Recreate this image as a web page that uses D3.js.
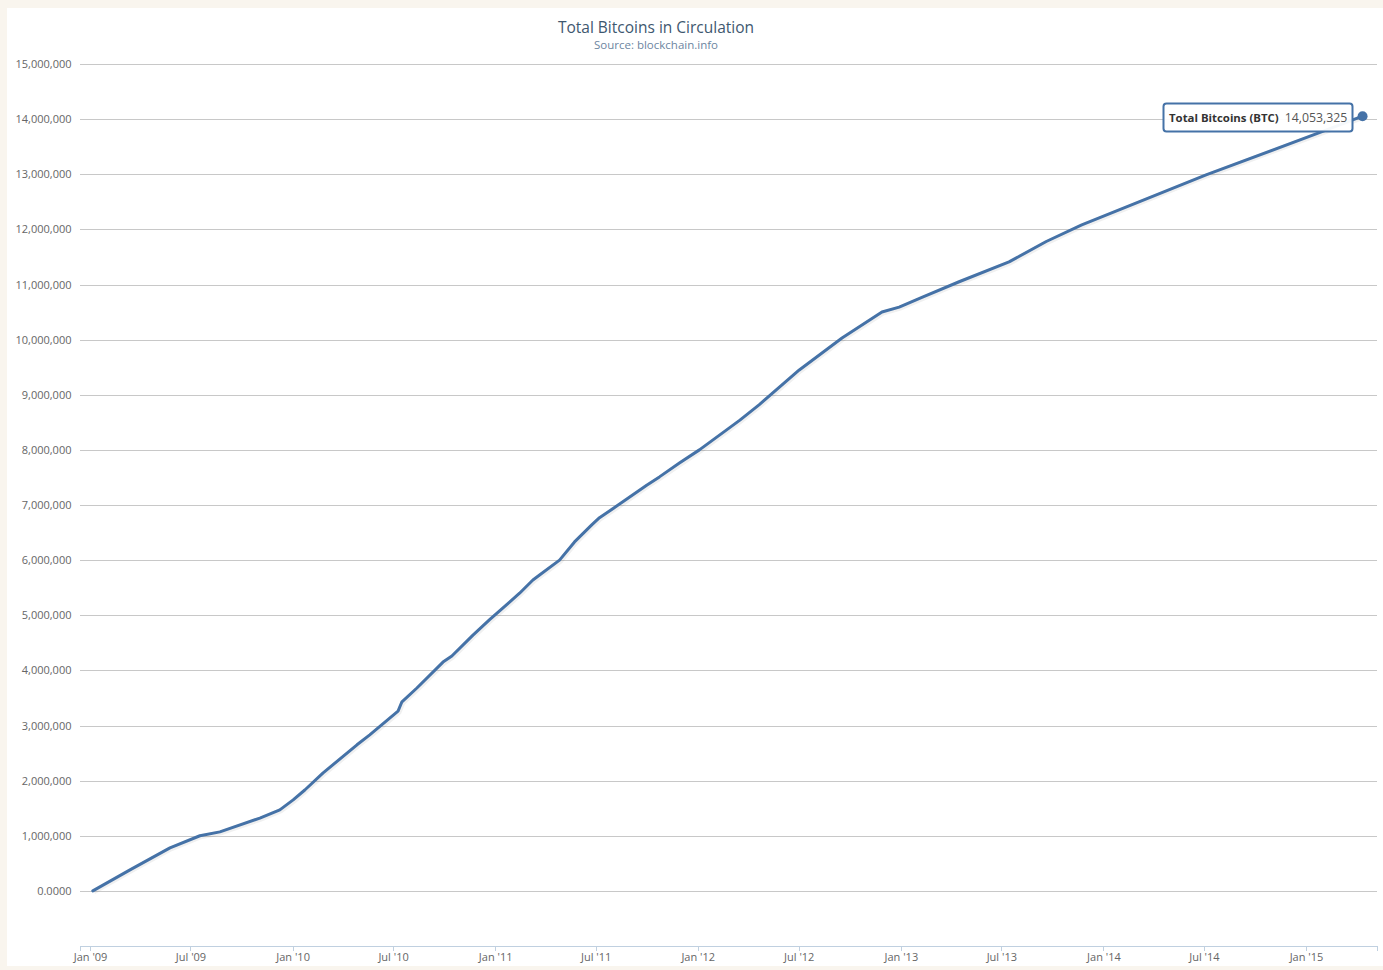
<!DOCTYPE html>
<html>
<head>
<meta charset="utf-8">
<script src="https://cdn.jsdelivr.net/npm/d3@7"></script>
<style>
  html, body { margin: 0; padding: 0; background: #f9f5ee; }
  svg { display: block; }
</style>
</head>
<body>
<svg id="chart" width="1383" height="970"></svg>
<script>
// ---- data ----
const title = "Total Bitcoins in Circulation";
const subtitle = "Source: blockchain.info";
const seriesName = "Total Bitcoins (BTC)";
const dates = [
  "2009-01-06","2009-03-14","2009-05-25","2009-07-18","2009-08-23","2009-11-03","2009-12-09",
  "2010-01-02","2010-01-23","2010-02-25","2010-04-27","2010-05-20","2010-07-10","2010-07-17",
  "2010-08-13","2010-09-29","2010-10-15","2010-11-22","2010-12-22","2011-02-14","2011-03-10",
  "2011-03-22","2011-04-27","2011-05-24","2011-06-24","2011-07-08","2011-08-08","2011-10-01",
  "2011-10-24","2011-11-29","2012-01-04","2012-03-17","2012-04-21","2012-07-02","2012-09-17",
  "2012-11-28","2012-12-29","2013-02-09","2013-04-16","2013-07-15","2013-09-20","2013-11-23","2014-07-05",
  "2015-01-24","2015-04-13"
];
const values = [
  0, 381000, 780000, 1000000, 1070000, 1320000, 1470000,
  1650000, 1830000, 2140000, 2650000, 2830000, 3260000, 3430000,
  3680000, 4150000, 4260000, 4640000, 4920000, 5400000, 5640000,
  5730000, 6000000, 6330000, 6640000, 6770000, 6980000, 7360000,
  7510000, 7760000, 8000000, 8540000, 8820000, 9450000, 10030000,
  10500000, 10590000, 10770000, 11050000, 11410000, 11780000, 12080000, 12990000,
  13750000, 14053325
];
const yTicks = [0,1000000,2000000,3000000,4000000,5000000,6000000,7000000,8000000,9000000,10000000,11000000,12000000,13000000,14000000,15000000];
const xTickDates = ["2009-01-01","2009-07-01","2010-01-01","2010-07-01","2011-01-01","2011-07-01","2012-01-01","2012-07-01","2013-01-01","2013-07-01","2014-01-01","2014-07-01","2015-01-01"];
const xDomain = ["2008-12-13","2015-05-09"];
const yDomain = [-1000000, 15000000];

// ---- chart ----
const font = "'Open Sans', 'Noto Sans', sans-serif";
const parse = d3.utcParse("%Y-%m-%d");
const data = dates.map((d, i) => ({ date: parse(d), value: values[i] }));

const svg = d3.select("#chart");
const plot = { left: 79.5, right: 1377, top: 64, bottom: 946 };

svg.append("rect").attr("x", 7).attr("y", 8).attr("width", 1376).attr("height", 958).attr("fill", "#fff");

const x = d3.scaleUtc().domain(xDomain.map(parse)).range([plot.left, plot.right]);
const y = d3.scaleLinear().domain(yDomain).range([plot.bottom, plot.top]);

// title
svg.append("text").attr("x", 656).attr("y", 33).attr("text-anchor", "middle")
  .attr("font-family", font).attr("font-size", 15.5).attr("fill", "#3e576f").text(title);
svg.append("text").attr("x", 656).attr("y", 49).attr("text-anchor", "middle")
  .attr("font-family", font).attr("font-size", 11.5).attr("fill", "#6d869f").text(subtitle);

// y grid + labels
const yAxis = d3.axisLeft(y).tickValues(yTicks).tickSize(-(plot.right - plot.left)).tickPadding(8)
  .tickFormat(v => v === 0 ? "0.0000" : d3.format(",")(v));
const gy = svg.append("g").attr("transform", `translate(${plot.left},0)`).call(yAxis);
gy.select(".domain").remove();
gy.selectAll(".tick line").attr("stroke", "#c8c8c8").attr("stroke-width", 1).attr("shape-rendering", "crispEdges");
gy.selectAll(".tick text").attr("font-family", font).attr("font-size", 11).attr("fill", "#666");

// x axis
const xAxis = d3.axisBottom(x).tickValues(xTickDates.map(parse)).tickSize(5).tickPadding(2)
  .tickFormat(d3.utcFormat("%b '%y"));
const gx = svg.append("g").attr("transform", `translate(0,${plot.bottom})`).call(xAxis);
gx.select(".domain").attr("stroke", "#c0d0e0").attr("shape-rendering", "crispEdges");
gx.selectAll(".tick line").attr("stroke", "#c0d0e0").attr("shape-rendering", "crispEdges");
gx.selectAll(".tick text").attr("font-family", font).attr("font-size", 11).attr("fill", "#666");

// line
const line = d3.line().x(d => x(d.date)).y(d => y(d.value));
svg.append("path").datum(data).attr("d", line).attr("fill", "none")
  .attr("stroke", "rgba(0,0,0,0.06)").attr("stroke-width", 5).attr("transform", "translate(1,1)");
svg.append("path").datum(data).attr("d", line).attr("fill", "none")
  .attr("stroke", "#4572a7").attr("stroke-width", 3).attr("stroke-linejoin", "round").attr("stroke-linecap", "round");

// end marker
const last = data[data.length - 1];
svg.append("circle").attr("cx", x(last.date)).attr("cy", y(last.value)).attr("r", 5).attr("fill", "#4572a7");

// tooltip
const tip = svg.append("g");
const tx = 1163, ty = 103;
tip.append("rect").attr("x", tx + 0.5).attr("y", ty + 0.5).attr("width", 189).attr("height", 28).attr("rx", 3)
  .attr("fill", "rgba(255,255,255,0.95)").attr("stroke", "#4572a7").attr("stroke-width", 2);
const tt = tip.append("text").attr("x", tx + 6).attr("y", ty + 18.5).attr("font-family", font);
tt.append("tspan").attr("font-weight", "bold").attr("font-size", 11.4).attr("fill", "#333").text(seriesName);
tt.append("tspan").attr("dx", 6).attr("font-size", 12.3).attr("fill", "#555").text(d3.format(",")(last.value));
</script>
</body>
</html>
